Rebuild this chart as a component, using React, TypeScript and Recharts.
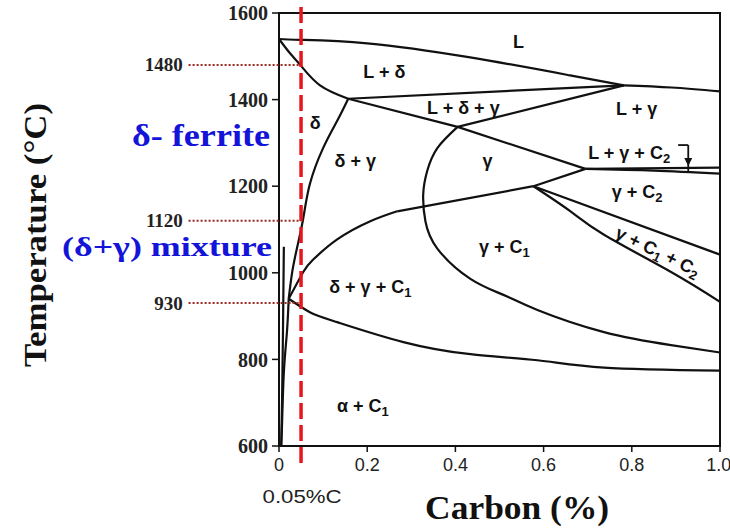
import {
  ComposedChart,
  Line,
  XAxis,
  YAxis,
  ReferenceLine,
  ReferenceArea,
  ReferenceDot,
} from 'recharts'

type Pt = { C: number; T: number }

const xTicks = [0, 0.2, 0.4, 0.6, 0.8, 1.0]
const yTicks = [600, 800, 1000, 1200, 1400, 1600]
const markedTemps = [1480, 1120, 930]
const steelCarbon = 0.05

// phase boundaries (C in %, T in °C)
const liquidus: Pt[] = [
  { C: 0, T: 1540 },
  { C: 0.05, T: 1538 },
  { C: 0.2, T: 1530 },
  { C: 0.43, T: 1498 },
  { C: 0.66, T: 1456 },
  { C: 0.782, T: 1433 },
]
const liquidusRight: Pt[] = [
  { C: 0.782, T: 1433 },
  { C: 0.89, T: 1428 },
  { C: 1.0, T: 1419 },
]
const deltaSolidus: Pt[] = [
  { C: 0, T: 1540 },
  { C: 0.025, T: 1507 },
  { C: 0.05, T: 1478 },
  { C: 0.093, T: 1433 },
  { C: 0.157, T: 1402 },
]
const peritectic: Pt[] = [
  { C: 0.157, T: 1402 },
  { C: 0.782, T: 1433 },
]
const deltaLimit: Pt[] = [
  { C: 0.157, T: 1402 },
  { C: 0.132, T: 1351 },
  { C: 0.1, T: 1288 },
  { C: 0.07, T: 1205 },
  { C: 0.055, T: 1126 },
  { C: 0.041, T: 1058 },
  { C: 0.03, T: 1002 },
  { C: 0.022, T: 940 },
]
const gammaTop: Pt[] = [
  { C: 0.157, T: 1402 },
  { C: 0.405, T: 1337 },
  { C: 0.695, T: 1240 },
]
const gammaLiquidus: Pt[] = [
  { C: 0.405, T: 1337 },
  { C: 0.782, T: 1433 },
]
const c2Upper: Pt[] = [
  { C: 0.695, T: 1240 },
  { C: 1.0, T: 1243 },
]
const c2Lower: Pt[] = [
  { C: 0.695, T: 1240 },
  { C: 0.85, T: 1236 },
  { C: 1.0, T: 1229 },
]
const c2Solvus: Pt[] = [
  { C: 0.577, T: 1200 },
  { C: 0.695, T: 1240 },
]
const c1UpperCurve: Pt[] = [
  { C: 0.022, T: 940 },
  { C: 0.055, T: 1002 },
  { C: 0.077, T: 1030 },
  { C: 0.132, T: 1077 },
  { C: 0.207, T: 1119 },
  { C: 0.268, T: 1142 },
]
const c1UpperLine: Pt[] = [
  { C: 0.268, T: 1142 },
  { C: 0.577, T: 1200 },
]
const alphaTop: Pt[] = [
  { C: 0.022, T: 940 },
  { C: 0.07, T: 909 },
  { C: 0.132, T: 886 },
  { C: 0.282, T: 840 },
  { C: 0.434, T: 812 },
  { C: 0.586, T: 798 },
  { C: 0.737, T: 781 },
  { C: 1.0, T: 774 },
]
const gammaArc: Pt[] = [
  { C: 0.405, T: 1337 },
  { C: 0.359, T: 1288 },
  { C: 0.336, T: 1235 },
  { C: 0.327, T: 1181 },
  { C: 0.332, T: 1119 },
  { C: 0.359, T: 1056 },
  { C: 0.434, T: 986 },
  { C: 0.509, T: 949 },
  { C: 0.586, T: 914 },
  { C: 0.737, T: 863 },
  { C: 0.889, T: 833 },
  { C: 1.0, T: 816 },
]
const threePhaseUpper: Pt[] = [
  { C: 0.577, T: 1200 },
  { C: 1.0, T: 1042 },
]
const threePhaseLower: Pt[] = [
  { C: 0.577, T: 1200 },
  { C: 0.661, T: 1142 },
  { C: 0.737, T: 1088 },
  { C: 0.889, T: 1002 },
  { C: 1.0, T: 933 },
]
const alphaLimitA: Pt[] = [
  { C: 0.022, T: 940 },
  { C: 0.018, T: 863 },
  { C: 0.011, T: 770 },
  { C: 0.007, T: 653 },
  { C: 0.005, T: 600 },
]
const alphaLimitB: Pt[] = [
  { C: 0.011, T: 1060 },
  { C: 0.009, T: 863 },
  { C: 0.007, T: 707 },
  { C: 0.005, T: 600 },
]

const boundaries: { pts: Pt[]; curve: 'natural' | 'linear' }[] = [
  { pts: liquidus, curve: 'natural' },
  { pts: liquidusRight, curve: 'natural' },
  { pts: deltaSolidus, curve: 'natural' },
  { pts: peritectic, curve: 'linear' },
  { pts: deltaLimit, curve: 'natural' },
  { pts: gammaTop, curve: 'linear' },
  { pts: gammaLiquidus, curve: 'linear' },
  { pts: c2Upper, curve: 'linear' },
  { pts: c2Lower, curve: 'natural' },
  { pts: c2Solvus, curve: 'linear' },
  { pts: c1UpperCurve, curve: 'natural' },
  { pts: c1UpperLine, curve: 'linear' },
  { pts: alphaTop, curve: 'natural' },
  { pts: gammaArc, curve: 'natural' },
  { pts: threePhaseUpper, curve: 'linear' },
  { pts: threePhaseLower, curve: 'natural' },
  { pts: alphaLimitA, curve: 'natural' },
  { pts: alphaLimitB, curve: 'linear' },
]

// phase field names, "_n" = subscript
const phaseLabels = [
  { text: 'L', C: 0.543, T: 1533, angle: 0 },
  { text: 'L + δ', C: 0.239, T: 1463, angle: 0 },
  { text: 'δ', C: 0.082, T: 1347, angle: 0 },
  { text: 'L + δ + γ', C: 0.418, T: 1381, angle: 0 },
  { text: 'L + γ', C: 0.811, T: 1379, angle: 0 },
  { text: 'δ + γ', C: 0.173, T: 1258, angle: 0 },
  { text: 'γ', C: 0.473, T: 1258, angle: 0 },
  { text: 'L + γ + C_2', C: 0.794, T: 1277, angle: 0 },
  { text: 'γ + C_2', C: 0.812, T: 1186, angle: 0 },
  { text: 'γ + C_1 + C_2', C: 0.859, T: 1049, angle: 26 },
  { text: 'γ + C_1', C: 0.511, T: 1060, angle: 0 },
  { text: 'δ + γ + C_1', C: 0.207, T: 967, angle: 0 },
  { text: 'α + C_1', C: 0.19, T: 693, angle: 0 },
]

const SANS = 'Liberation Sans, Arial, sans-serif'
const SERIF = 'Liberation Serif, Times New Roman, serif'

function PhaseText({ cx, cy, text, angle }: { cx: number; cy: number; text: string; angle: number }) {
  const parts = text.split(/(_\d)/).filter(Boolean)
  let sub = false
  return (
    <text
      x={cx}
      y={cy}
      textAnchor="middle"
      dominantBaseline="central"
      fontFamily={SANS}
      fontWeight="bold"
      fontSize={18}
      fill="#111"
      transform={angle ? `rotate(${angle} ${cx} ${cy})` : undefined}
    >
      {parts.map((p, i) => {
        if (p.startsWith('_')) {
          sub = true
          return (
            <tspan key={i} fontSize={13} dy={5}>
              {p.slice(1)}
            </tspan>
          )
        }
        const dy = sub ? -5 : 0
        sub = false
        return (
          <tspan key={i} dy={dy}>
            {p}
          </tspan>
        )
      })}
    </text>
  )
}

export default function App() {
  return (
    <div style={{ position: 'absolute', left: 0, top: 0, width: 730, height: 529, background: '#fff' }}>
      <ComposedChart width={730} height={529} margin={{ top: 13, right: 10, bottom: 53, left: 219 }}>
        <XAxis
          type="number"
          dataKey="C"
          domain={[0, 1]}
          ticks={xTicks}
          height={30}
          axisLine={false}
          tickSize={6}
          tickMargin={6}
          tickLine={{ stroke: '#111', strokeWidth: 1.5 }}
          tick={{ fontFamily: SANS, fontSize: 18, fill: '#222' }}
          tickFormatter={(v: number) => (v === 0 ? '0' : v.toFixed(1))}
          label={{
            content: ({ viewBox }: any) => (
              <text
                x={viewBox.x + viewBox.width * 0.54}
                y={viewBox.y + 73}
                textAnchor="middle"
                fontFamily={SERIF}
                fontWeight="bold"
                fontSize={33}
                textLength={184}
                lengthAdjust="spacingAndGlyphs"
                fill="#111"
              >
                Carbon (%)
              </text>
            ),
          }}
        />
        <YAxis
          type="number"
          domain={[600, 1600]}
          ticks={yTicks}
          width={60}
          axisLine={false}
          tickSize={7}
          tickMargin={4}
          tickLine={{ stroke: '#111', strokeWidth: 1.5 }}
          tick={{ fontFamily: SERIF, fontWeight: 'bold', fontSize: 20, fill: '#222' }}
          label={{
            content: () => (
              <text
                x={35}
                y={235}
                textAnchor="middle"
                dominantBaseline="central"
                transform="rotate(-90 35 235)"
                fontFamily={SERIF}
                fontWeight="bold"
                fontSize={32}
                textLength={264}
                lengthAdjust="spacingAndGlyphs"
                fill="#111"
              >
                Temperature (°C)
              </text>
            ),
          }}
        />

        <ReferenceArea x1={0} x2={1} y1={600} y2={1600} fill="none" stroke="#111" strokeWidth={2} />

        {boundaries.map((b, i) => (
          <Line
            key={i}
            data={b.pts}
            dataKey="T"
            type={b.curve}
            stroke="#111"
            strokeWidth={2.2}
            dot={false}
            activeDot={false}
            isAnimationActive={false}
          />
        ))}

        {/* bracket arrow pointing to the thin L+γ+C2 field */}
        <ReferenceLine
          segment={[
            { x: 0.905, y: 1295 },
            { x: 0.928, y: 1295 },
          ]}
          stroke="#111"
          strokeWidth={1.8}
          ifOverflow="visible"
        />
        <ReferenceLine
          segment={[
            { x: 0.928, y: 1295 },
            { x: 0.928, y: 1235 },
          ]}
          stroke="#111"
          strokeWidth={1.8}
          ifOverflow="visible"
        />
        <ReferenceDot
          x={0.928}
          y={1256}
          r={2}
          ifOverflow="visible"
          shape={(p: any) => (
            <path d={`M${p.cx - 4},${p.cy - 4} L${p.cx + 4},${p.cy - 4} L${p.cx},${p.cy + 4} Z`} fill="#111" />
          )}
        />

        {phaseLabels.map((l, i) => (
          <ReferenceDot
            key={'pl' + i}
            x={l.C}
            y={l.T}
            r={2}
            ifOverflow="visible"
            shape={(p: any) => <PhaseText cx={p.cx} cy={p.cy} text={l.text} angle={l.angle} />}
          />
        ))}

        {markedTemps.map((t) => (
          <ReferenceLine
            key={'mt' + t}
            segment={[
              { x: -0.205, y: t },
              { x: steelCarbon, y: t },
            ]}
            stroke="#9a2a22"
            strokeWidth={2}
            strokeDasharray="2 2"
            ifOverflow="visible"
          />
        ))}
        {markedTemps.map((t) => (
          <ReferenceDot
            key={'ml' + t}
            x={-0.218}
            y={t}
            r={2}
            ifOverflow="visible"
            shape={(p: any) => (
              <text
                x={p.cx}
                y={p.cy}
                textAnchor="end"
                dominantBaseline="central"
                fontFamily={SERIF}
                fontWeight="bold"
                fontSize={19}
                fill="#222"
              >
                {t}
              </text>
            )}
          />
        ))}

        <ReferenceLine
          segment={[
            { x: steelCarbon, y: 1614 },
            { x: steelCarbon, y: 549 },
          ]}
          stroke="#e8161c"
          strokeWidth={3.5}
          strokeDasharray="16 6"
          ifOverflow="visible"
        />

        {/* annotations */}
        <ReferenceDot
          x={steelCarbon}
          y={1300}
          r={2}
          ifOverflow="visible"
          shape={(p: any) => (
            <g>
              <text
                x={270}
                y={146}
                textAnchor="end"
                fontFamily={SERIF}
                fontWeight="bold"
                fontSize={31}
                textLength={138}
                lengthAdjust="spacingAndGlyphs"
                fill="#1414d8"
              >
                δ- ferrite
              </text>
              <text
                x={272}
                y={256}
                textAnchor="end"
                fontFamily={SERIF}
                fontWeight="bold"
                fontSize={27}
                textLength={210}
                lengthAdjust="spacingAndGlyphs"
                fill="#1414d8"
              >
                (δ+γ) mixture
              </text>
              <text
                x={p.cx + 1}
                y={503}
                textAnchor="middle"
                fontFamily={SANS}
                fontSize={18}
                textLength={79}
                lengthAdjust="spacingAndGlyphs"
                fill="#222"
              >
                0.05%C
              </text>
            </g>
          )}
        />
      </ComposedChart>
    </div>
  )
}
